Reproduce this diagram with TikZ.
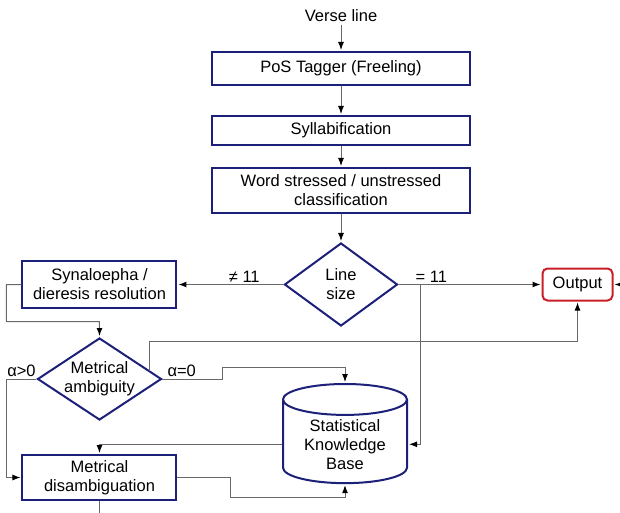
\documentclass[tikz,border=0pt]{standalone}
\usepackage{fontspec}
\setmainfont{Liberation Sans}
\usetikzlibrary{shapes.geometric, arrows.meta, positioning, calc}
\definecolor{boxblue}{RGB}{28,32,120}
\definecolor{outred}{RGB}{200,30,40}
\definecolor{linegray}{RGB}{105,105,105}
\tikzset{
    block/.style={rectangle, draw=boxblue, line width=2pt, fill=white, align=center, font=\fontsize{16.5pt}{19pt}\selectfont},
    decision/.style={diamond, aspect=1.5, draw=boxblue, line width=2pt, fill=white, align=center, inner sep=-3pt, font=\fontsize{16.5pt}{19pt}\selectfont},
    database/.style={cylinder, shape border rotate=90, aspect=0.35, draw=boxblue, line width=2pt, fill=white, align=center, minimum width=124pt, minimum height=95pt, font=\fontsize{16.5pt}{19pt}\selectfont},
    outbox/.style={rectangle, rounded corners=5pt, draw=outred, line width=2pt, minimum width=70pt, minimum height=32pt, font=\fontsize{16.5pt}{19pt}\selectfont},
    lbl/.style={font=\fontsize{16.5pt}{19pt}\selectfont, inner sep=2pt},
    arrow/.style={draw=linegray, line width=1pt, shorten >=1pt, -{Latex[length=8pt, width=6pt, color=black]}},
    plainline/.style={draw=linegray, line width=1pt}
}
\begin{document}
\begin{tikzpicture}[node distance=30pt]
    \node[block, minimum width=257pt, minimum height=33pt] (pos) {PoS Tagger (Freeling)};
    \useasboundingbox ($(pos.center)+(-341pt,68.5pt)$) rectangle ++(620pt,-513pt);
    \node[lbl, inner sep=3.33pt, above=26pt of pos] (verse) {Verse line};
    \node[block, below=29pt of pos, minimum width=257pt, minimum height=29pt] (syl) {Syllabification};
    \node[block, below=21pt of syl, minimum width=257pt, minimum height=45pt] (word) {Word stressed / unstressed\\classification};
    \node[decision, below=28pt of word, minimum width=113pt, minimum height=83pt] (size) {Line\\size};
    \node[block, left=106pt of size, minimum width=154pt, minimum height=47pt] (syn) {Synaloepha /\\dieresis resolution};
    \node[outbox, right=143pt of size] (out) {Output};
    \node[decision, below=28pt of syn, minimum width=124pt, minimum height=82pt] (amb) {Metrical\\ambiguity};
    \node[block, below=33pt of amb, minimum width=154pt, minimum height=45pt] (dis) {Metrical\\disambiguation};
    \node[database, below=56pt of size, xshift=4pt] (kb) {Statistical\\Knowledge\\Base};

    \coordinate (tap) at ($(size.east)!0.155!(out.west)$);
    \coordinate[below=15pt of dis.south] (tail);
    \coordinate[right=15pt of out.east] (back);

    \draw[arrow] (verse) -- (pos);
    \draw[arrow] (pos) -- (syl);
    \draw[arrow] (syl) -- (word);
    \draw[arrow] (word) -- (size);
    \draw[arrow] (size) -- node[lbl, above, pos=0.37] {≠ 11} (syn);
    \draw[arrow] (size) -- node[lbl, above, pos=0.23] {= 11} (out);
    \draw[arrow] (tap) |- (kb.east);
    \draw[arrow] (back) -- (out.east);
    \draw[arrow] (syn.west) -- ++(-15pt,0) |- ($(syn.south)!0.45!(amb.north)$) -- (amb.north);
    \draw[arrow] (amb.west) -- node[lbl, above] {α>0} ++(-30pt,0) |- (dis.west);
    \draw[arrow] (amb.east) -- node[lbl, above, pos=0.32] {α=0} ++(60pt,0) -- ++(0,12pt) -| (kb.north);
    \draw[arrow] ($(amb.north)!0.8!(amb.east)$) -- ++(0,29pt) -| (out.south);
    \draw[arrow] (kb.west) -| (dis.north);
    \draw[arrow] (dis.east) -- ++(53pt,0) |- ($(kb.south)+(0,-13pt)$) -- (kb.south);
    \draw[plainline] (dis.south) -- (tail);
\end{tikzpicture}
\end{document}
